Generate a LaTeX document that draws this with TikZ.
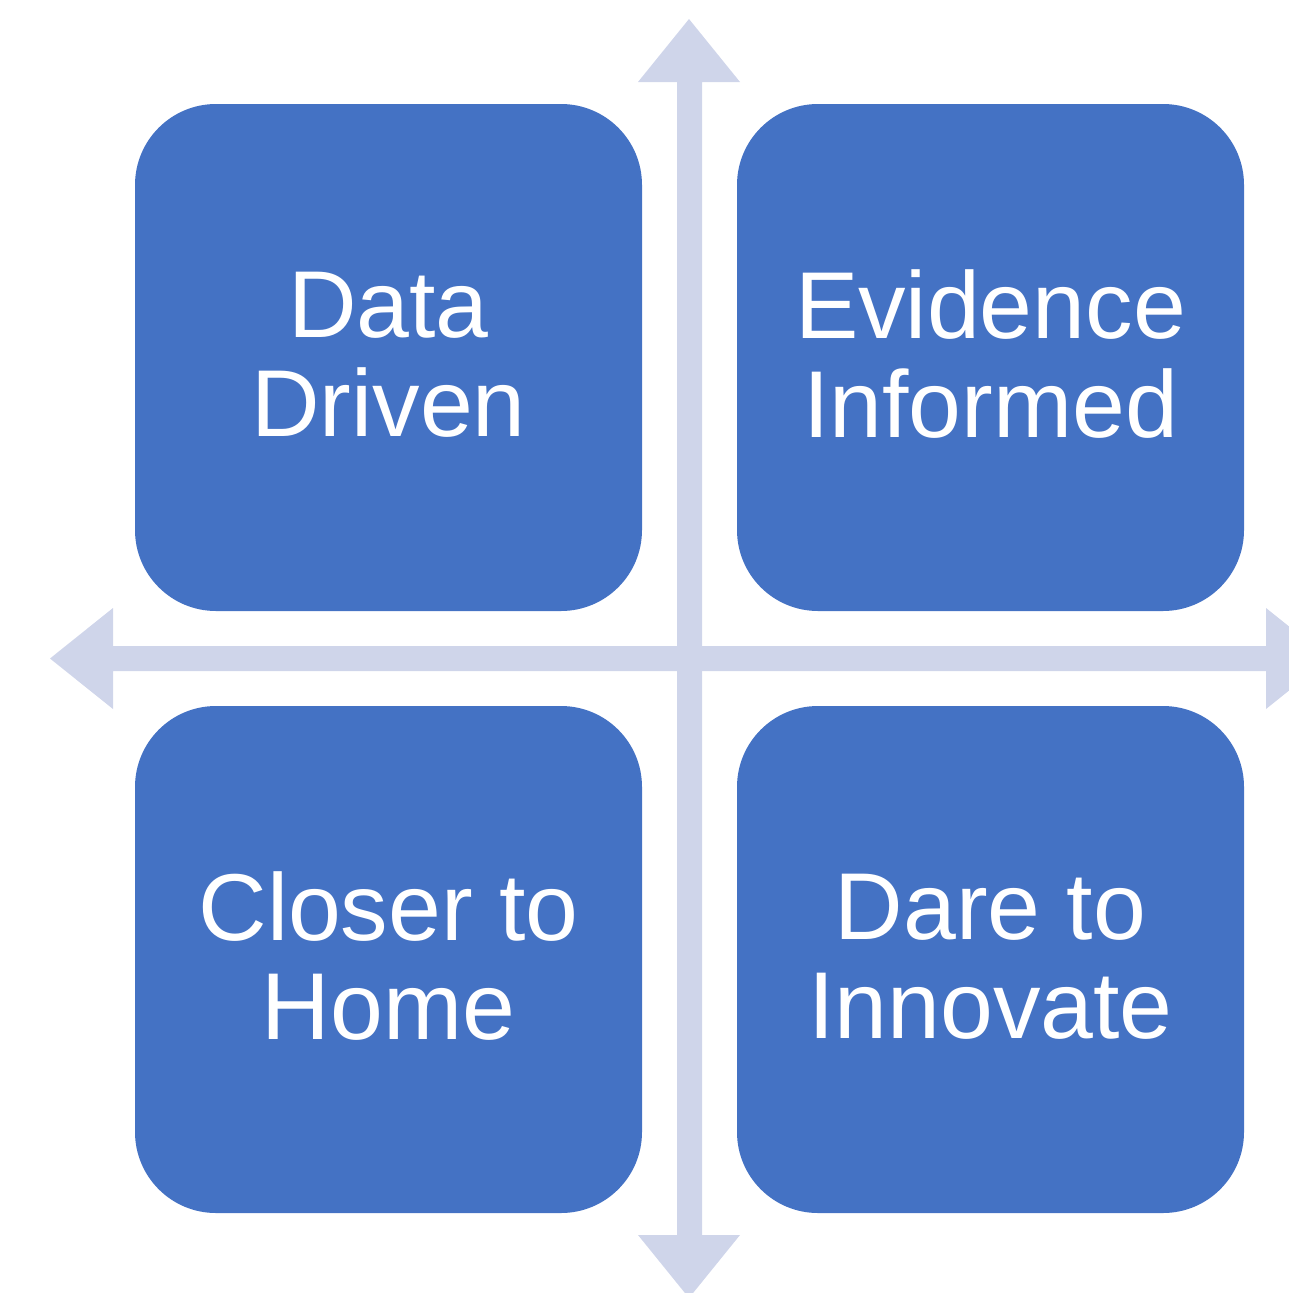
\documentclass[tikz,border=0pt]{standalone}
\usepackage{fontspec}
\setmainfont{Liberation Sans}
\definecolor{boxblue}{HTML}{4472C4}
\definecolor{axisgray}{HTML}{CFD5EA}
\begin{document}
\begin{tikzpicture}[x=1pt,y=-1pt,
  quad/.style={fill=boxblue, draw=none, rounded corners=81pt, minimum width=507pt, minimum height=507pt,
    inner sep=0pt, text=white, align=center, text depth=7pt, font=\fontsize{95}{99}\selectfont},
  axis/.style={fill=axisgray, draw=none}]
\useasboundingbox (0,0) rectangle (1289,1293);
\clip (0,0) rectangle (1289,1293);
% axes
\coordinate (vtop) at (689,19);
\coordinate (vbot) at (689,1298);
\coordinate (hleft) at (50,658.5);
\coordinate (hright) at (1329,658.5);
\fill[axis] (hleft) -- (113,608) -- (113,646) -- (1266,646) -- (1266,608) -- (hright)
  -- (1266,709) -- (1266,671) -- (113,671) -- (113,709) -- cycle;
\fill[axis] (vtop) -- (740,82) -- (702,82) -- (702,1235) -- (740,1235) -- (vbot)
  -- (638,1235) -- (677,1235) -- (677,82) -- (638,82) -- cycle;
% quadrants
\node[quad] (dd) at (388.5,357.5) {Data\\Driven};
\node[quad] (ei) at (990.5,357.5) {Evidence\\Informed};
\node[quad] (ch) at (388.5,959.5) {Closer to\\Home};
\node[quad] (di) at (990.5,959.5) {Dare to\\Innovate};
\end{tikzpicture}
\end{document}
